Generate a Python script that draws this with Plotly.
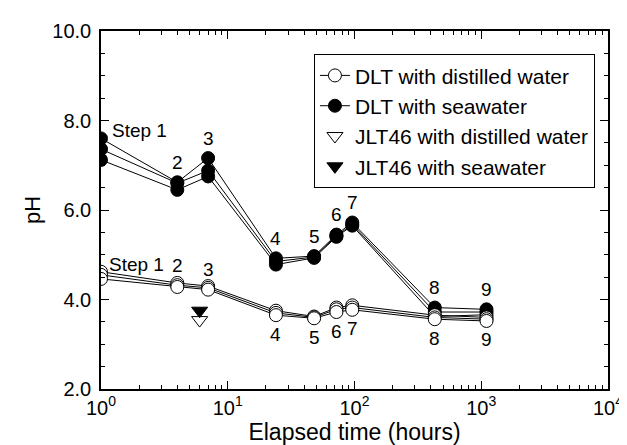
import math
import plotly.graph_objects as go

# ---- data ----
steps = ["1", "2", "3", "4", "5", "6", "7", "8", "9"]
time_h = [1, 4, 7, 24, 48, 72, 96, 430, 1100]

dlt_sea_a = [7.60, 6.62, 7.16, 4.92, 4.97, 5.45, 5.72, 3.82, 3.78]
dlt_sea_b = [7.36, 6.60, 6.88, 4.85, 4.95, 5.42, 5.68, 3.72, 3.72]
dlt_sea_c = [7.12, 6.45, 6.75, 4.78, 4.93, 5.40, 5.65, 3.62, 3.66]

dlt_dw_a = [4.62, 4.37, 4.30, 3.75, 3.62, 3.82, 3.87, 3.65, 3.60]
dlt_dw_b = [4.55, 4.32, 4.26, 3.70, 3.60, 3.78, 3.82, 3.60, 3.56]
dlt_dw_c = [4.46, 4.28, 4.22, 3.65, 3.58, 3.72, 3.77, 3.56, 3.52]

jlt_time = [6]
jlt_dw = [3.54]
jlt_sea = [3.75]

x_tickvals = [1, 10, 100, 1000, 10000]
x_ticktext = ["10<sup>0</sup>", "10<sup>1</sup>", "10<sup>2</sup>", "10<sup>3</sup>", "10<sup>4</sup>"]
x_minor = [m * 10 ** k for k in range(4) for m in range(2, 10)]
y_tickvals = [2, 4, 6, 8, 10]
y_ticktext = ["2.0", "4.0", "6.0", "8.0", "10.0"]

FONT = "Liberation Sans, Arial, sans-serif"

fig = go.Figure()

line_style = dict(color="black", width=1)

def add_series(y, filled, name, show, rank):
    fig.add_trace(go.Scatter(
        x=time_h, y=y, mode="lines+markers", name=name, showlegend=show,
        legendrank=rank,
        line=line_style,
        marker=dict(symbol="circle", size=13,
                    color="black" if filled else "white",
                    line=dict(color="black", width=1)),
    ))

for i, y in enumerate([dlt_sea_a, dlt_sea_b, dlt_sea_c]):
    add_series(y, True, "DLT with seawater", i == 0, 2)
for i, y in enumerate([dlt_dw_a, dlt_dw_b, dlt_dw_c]):
    add_series(y, False, "DLT with distilled water", i == 0, 1)

fig.add_trace(go.Scatter(
    x=jlt_time, y=jlt_dw, mode="markers", name="JLT46 with distilled water",
    legendrank=3,
    marker=dict(symbol="triangle-down", size=14, color="white",
                line=dict(color="black", width=1)),
))
fig.add_trace(go.Scatter(
    x=jlt_time, y=jlt_sea, mode="markers", name="JLT46 with seawater",
    legendrank=4,
    marker=dict(symbol="triangle-down", size=14, color="black",
                line=dict(color="black", width=1)),
))

# ---- step labels ----
ann = []
lab_font = dict(family=FONT, size=19, color="black")
for i, s in enumerate(steps):
    lx = math.log10(time_h[i])
    top_sea = max(dlt_sea_a[i], dlt_sea_b[i], dlt_sea_c[i])
    if i == 0:
        ann.append(dict(x=lx, y=top_sea, text="Step 1", showarrow=False,
                        xanchor="left", xshift=9, yshift=8, font=lab_font))
    else:
        ann.append(dict(x=lx, y=top_sea, text=s, showarrow=False,
                        yshift=20, font=lab_font))
    top_dw = max(dlt_dw_a[i], dlt_dw_b[i], dlt_dw_c[i])
    bot_dw = min(dlt_dw_a[i], dlt_dw_b[i], dlt_dw_c[i])
    if i == 0:
        ann.append(dict(x=lx, y=top_dw, text="Step 1", showarrow=False,
                        xanchor="left", xshift=6, yshift=7, font=lab_font))
    elif i in (1, 2):
        ann.append(dict(x=lx, y=top_dw, text=s, showarrow=False,
                        yshift=17, font=lab_font))
    else:
        ann.append(dict(x=lx, y=bot_dw, text=s, showarrow=False,
                        yshift=-19, font=lab_font))

fig.update_layout(
    width=627, height=445,
    margin=dict(l=93, r=15, t=19, b=62),
    paper_bgcolor="white", plot_bgcolor="white",
    font=dict(family=FONT, color="black"),
    annotations=ann,
    legend=dict(x=0.42, y=0.935, xanchor="left", yanchor="top",
                bordercolor="black", borderwidth=1, bgcolor="white",
                font=dict(family=FONT, size=21), tracegroupgap=0,
                itemwidth=30),
)
fig.update_xaxes(
    type="log", range=[0, 4],
    tickvals=x_tickvals, ticktext=x_ticktext,
    ticks="inside", ticklen=8, tickwidth=1, tickcolor="black",
    minor=dict(tickvals=x_minor, ticks="inside", ticklen=4, tickcolor="black"),
    showline=True, linecolor="black", linewidth=1.5, mirror="ticks",
    showgrid=False, zeroline=False, ticklabeloverflow="allow",
    tickfont=dict(family=FONT, size=20),
    title=dict(text="Elapsed time (hours)", font=dict(family=FONT, size=23), standoff=6),
)
fig.update_yaxes(
    range=[2, 10],
    tickvals=y_tickvals, ticktext=y_ticktext,
    ticks="inside", ticklen=8, tickwidth=1, tickcolor="black",
    minor=dict(dtick=0.5, ticks="inside", ticklen=4, tickcolor="black"),
    showline=True, linecolor="black", linewidth=1.5, mirror="ticks",
    showgrid=False, zeroline=False, ticklabelstandoff=4,
    tickfont=dict(family=FONT, size=20),
    title=dict(text="pH", font=dict(family=FONT, size=22), standoff=6),
)

fig.write_html("out.html")
